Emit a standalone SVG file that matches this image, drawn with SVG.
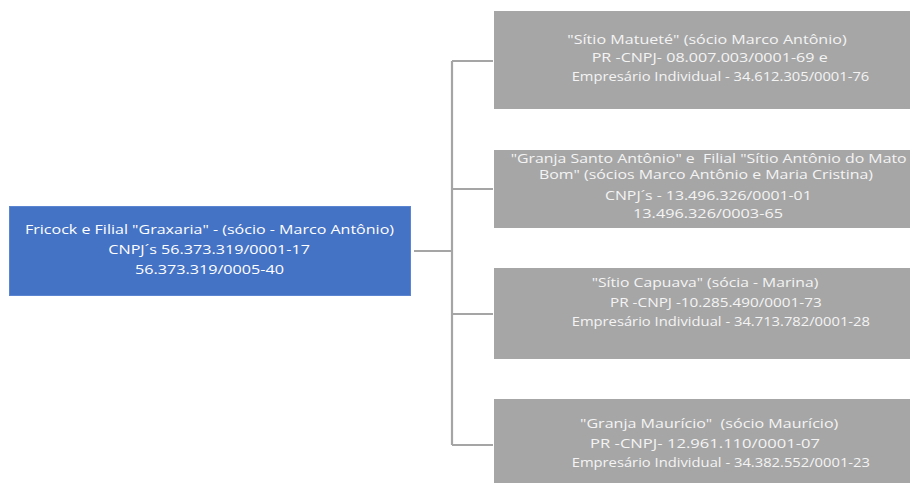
<svg xmlns="http://www.w3.org/2000/svg" width="910" height="483" viewBox="0 0 910 483">
<style>
.t{font-family:"Open Sans","Noto Sans","Liberation Sans",sans-serif;font-size:12.5px;fill:#f4f4f4}
.tb{fill:#ffffff}
.blue{fill:#4472c4;stroke:#5b85d0;stroke-width:1}
.gray{fill:#a6a6a6}
.ln{stroke:#a5a5a5;stroke-width:2.2;fill:none}
</style>
<rect width="910" height="483" fill="#ffffff"/>
<g id="connectors">
<path class="ln" d="M414 251 H452 M452 61 V445 M452 61 H493 M452 189 H493 M452 314 H493 M452 445 H493"/>
</g>
<g id="root">
<rect class="blue" x="9.5" y="206.5" width="401" height="89"/>
<text class="t tb" x="25" y="233.5" textLength="369" lengthAdjust="spacingAndGlyphs">Fricock e Filial "Graxaria" - (sócio - Marco Antônio)</text>
<text class="t tb" x="108.3" y="253.5" textLength="201.7" lengthAdjust="spacingAndGlyphs">CNPJ´s 56.373.319/0001-17</text>
<text class="t tb" x="135" y="273.5" textLength="149" lengthAdjust="spacingAndGlyphs">56.373.319/0005-40</text>
</g>
<g id="n1">
<rect class="gray" x="494" y="11" width="416" height="98"/>
<text class="t" x="567.3" y="43.5" textLength="279.4" lengthAdjust="spacingAndGlyphs">"Sítio Matueté" (sócio Marco Antônio)</text>
<text class="t" x="591.7" y="62" textLength="236" lengthAdjust="spacingAndGlyphs">PR -CNPJ- 08.007.003/0001-69 e</text>
<text class="t" x="571.7" y="80.5" textLength="297.6" lengthAdjust="spacingAndGlyphs">Empresário Individual - 34.612.305/0001-76</text>
</g>
<g id="n2">
<rect class="gray" x="494" y="150" width="416" height="78"/>
<text class="t" x="510.7" y="163.3" textLength="396" lengthAdjust="spacingAndGlyphs" xml:space="preserve">"Granja Santo Antônio" e  Filial "Sítio Antônio do Mato</text>
<text class="t" x="539" y="178.5" textLength="334" lengthAdjust="spacingAndGlyphs">Bom" (sócios Marco Antônio e Maria Cristina)</text>
<text class="t" x="605" y="200" textLength="206.7" lengthAdjust="spacingAndGlyphs">CNPJ´s - 13.496.326/0001-01</text>
<text class="t" x="633" y="217.7" textLength="150" lengthAdjust="spacingAndGlyphs">13.496.326/0003-65</text>
</g>
<g id="n3">
<rect class="gray" x="494" y="268" width="416" height="91"/>
<text class="t" x="591.7" y="287.3" textLength="226.6" lengthAdjust="spacingAndGlyphs">"Sítio Capuava" (sócia - Marina)</text>
<text class="t" x="610" y="306.7" textLength="211.7" lengthAdjust="spacingAndGlyphs">PR -CNPJ -10.285.490/0001-73</text>
<text class="t" x="571.7" y="326" textLength="298.3" lengthAdjust="spacingAndGlyphs">Empresário Individual - 34.713.782/0001-28</text>
</g>
<g id="n4">
<rect class="gray" x="494" y="399" width="416" height="92"/>
<text class="t" x="580" y="428.3" textLength="258.3" lengthAdjust="spacingAndGlyphs" xml:space="preserve">"Granja Maurício"  (sócio Maurício)</text>
<text class="t" x="590" y="447.7" textLength="230" lengthAdjust="spacingAndGlyphs">PR -CNPJ- 12.961.110/0001-07</text>
<text class="t" x="571.7" y="466.7" textLength="298.3" lengthAdjust="spacingAndGlyphs">Empresário Individual - 34.382.552/0001-23</text>
</g>
</svg>
